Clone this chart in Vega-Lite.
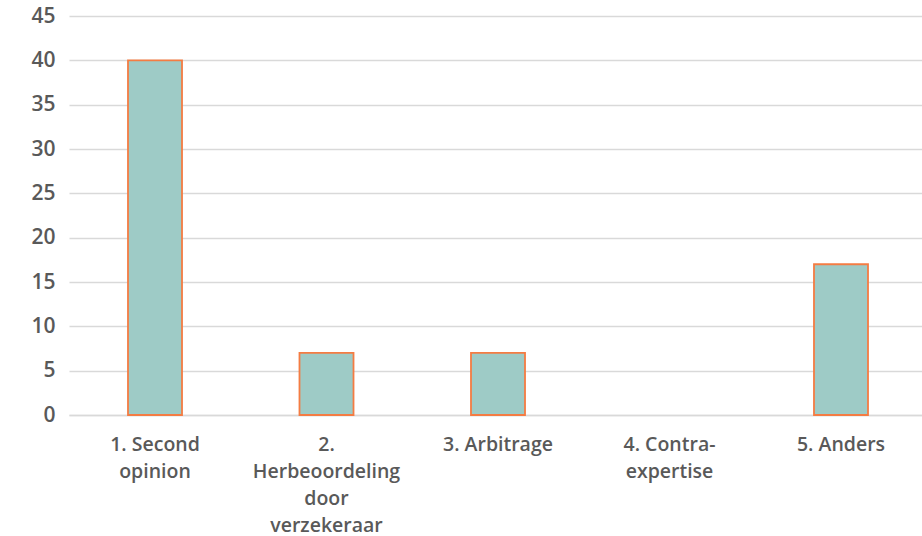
{
  "$schema": "https://vega.github.io/schema/vega-lite/v6.json",
  "width": 858,
  "height": 399,
  "autosize": "none",
  "padding": {"left": 69, "top": 16, "right": -5, "bottom": 121},
  "background": "white",
  "data": {"values": [
    {"cat": "1. Second|opinion", "value": 40},
    {"cat": "2.|Herbeoordeling|door|verzekeraar", "value": 7},
    {"cat": "3. Arbitrage", "value": 7},
    {"cat": "4. Contra-|expertise", "value": 0},
    {"cat": "5. Anders", "value": 17}
  ]},
  "mark": {"type": "bar", "fill": "#9ECBC6", "stroke": "#F47C43", "strokeWidth": 1.8},
  "encoding": {
    "x": {
      "field": "cat", "type": "nominal", "sort": null,
      "scale": {"paddingInner": 0.685, "paddingOuter": 0.344},
      "axis": {
        "title": null, "labelAngle": 0, "ticks": false,
        "domainColor": "#D9D9D9", "domainWidth": 1.5,
        "labelExpr": "split(datum.value, '|')",
        "labelFont": "Open Sans", "labelFontSize": 19.5, "labelFontWeight": 600,
        "labelColor": "#595959", "labelPadding": 29, "labelLineHeight": 27,
        "labelBaseline": "middle", "labelLimit": 300
      }
    },
    "y": {
      "field": "value", "type": "quantitative",
      "scale": {"domain": [0, 45], "nice": false},
      "axis": {
        "title": null, "values": [0,5,10,15,20,25,30,35,40,45],
        "ticks": false, "domain": false,
        "gridColor": "#D9D9D9", "gridWidth": 1.5,
        "labelFont": "Open Sans", "labelFontSize": 21, "labelFontWeight": 600,
        "labelColor": "#595959", "labelPadding": 14
      }
    },
    "strokeOpacity": {"condition": {"test": "datum.value > 0", "value": 1}, "value": 0}
  },
  "config": {"view": {"stroke": null}}
}
